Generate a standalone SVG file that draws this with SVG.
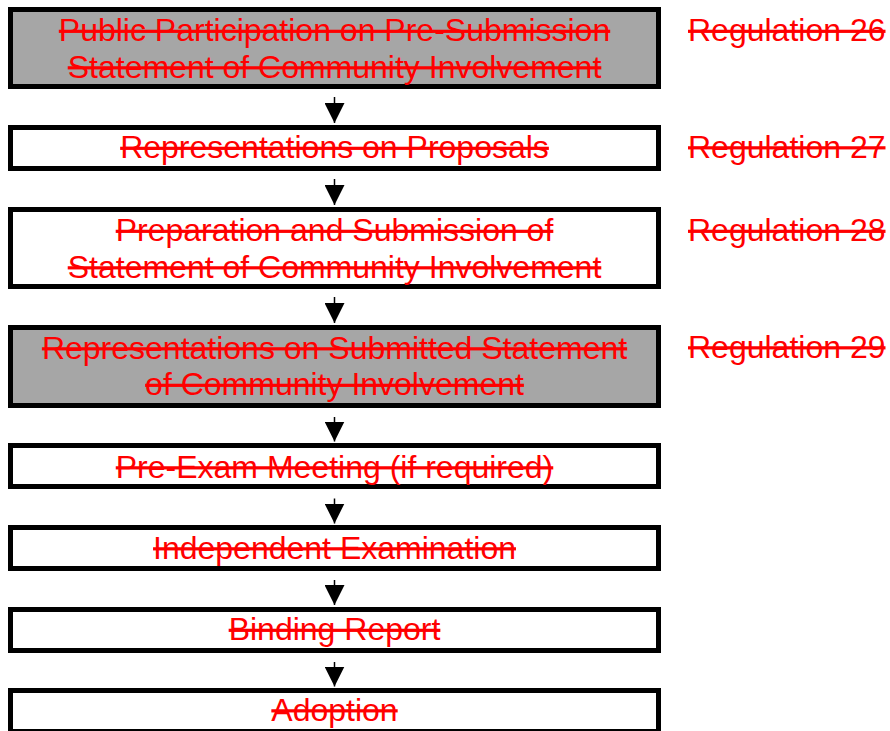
<svg xmlns="http://www.w3.org/2000/svg" width="890" height="731" viewBox="0 0 890 731">
<style>
.box{stroke:#000;stroke-width:5;fill:#fff}
.grey{fill:#A6A6A6}
.t{font-family:"Liberation Sans",Arial,sans-serif;font-size:32px;fill:#FF0000;text-decoration:line-through;text-anchor:middle}
.reg{text-anchor:start}
.conn{stroke:#000;stroke-width:1.5;fill:none}
</style>
<defs>
<marker id="ah" markerUnits="userSpaceOnUse" markerWidth="20" markerHeight="20" refX="20" refY="10" orient="auto" viewBox="0 0 20 20">
<path d="M0,0 L20,10 L0,20 z" fill="#000"/>
</marker>
</defs>
<rect width="890" height="731" fill="#fff"/>
<g id="n1">
<rect class="box grey" x="10.5" y="9.5" width="648" height="77"/>
<text class="t" x="334.5" y="41">Public Participation on Pre-Submission</text>
<text class="t" x="334.5" y="77.5">Statement of Community Involvement</text>
</g>
<g id="n2">
<rect class="box" x="10.5" y="127.5" width="648" height="41"/>
<text class="t" x="334.5" y="158">Representations on Proposals</text>
</g>
<g id="n3">
<rect class="box" x="10.5" y="209.5" width="648" height="77"/>
<text class="t" x="334.5" y="241">Preparation and Submission of</text>
<text class="t" x="334.5" y="277.5">Statement of Community Involvement</text>
</g>
<g id="n4">
<rect class="box grey" x="10.5" y="327.5" width="648" height="78"/>
<text class="t" x="334.5" y="358.5">Representations on Submitted Statement</text>
<text class="t" x="334.5" y="395">of Community Involvement</text>
</g>
<g id="n5">
<rect class="box" x="10.5" y="445.5" width="648" height="41"/>
<text class="t" x="334.5" y="477.5">Pre-Exam Meeting (if required)</text>
</g>
<g id="n6">
<rect class="box" x="10.5" y="527.5" width="648" height="41"/>
<text class="t" x="334.5" y="558.5">Independent Examination</text>
</g>
<g id="n7">
<rect class="box" x="10.5" y="609.5" width="648" height="41"/>
<text class="t" x="334.5" y="640">Binding Report</text>
</g>
<g id="n8">
<rect class="box" x="10.5" y="690.5" width="648" height="41"/>
<text class="t" x="334.5" y="720.5">Adoption</text>
</g>
<g id="r26"><text class="t reg" x="688" y="41">Regulation 26</text></g>
<g id="r27"><text class="t reg" x="688" y="157.5">Regulation 27</text></g>
<g id="r28"><text class="t reg" x="688" y="241">Regulation 28</text></g>
<g id="r29"><text class="t reg" x="688" y="357.5">Regulation 29</text></g>
<g id="connectors">
<line class="conn" x1="334.5" y1="97" x2="334.5" y2="123" marker-end="url(#ah)"/>
<line class="conn" x1="334.5" y1="179" x2="334.5" y2="205" marker-end="url(#ah)"/>
<line class="conn" x1="334.5" y1="297" x2="334.5" y2="323" marker-end="url(#ah)"/>
<line class="conn" x1="334.5" y1="417" x2="334.5" y2="441.5" marker-end="url(#ah)"/>
<line class="conn" x1="334.5" y1="498.5" x2="334.5" y2="523.5" marker-end="url(#ah)"/>
<line class="conn" x1="334.5" y1="580" x2="334.5" y2="605" marker-end="url(#ah)"/>
<line class="conn" x1="334.5" y1="662" x2="334.5" y2="686.5" marker-end="url(#ah)"/>
</g>
</svg>
